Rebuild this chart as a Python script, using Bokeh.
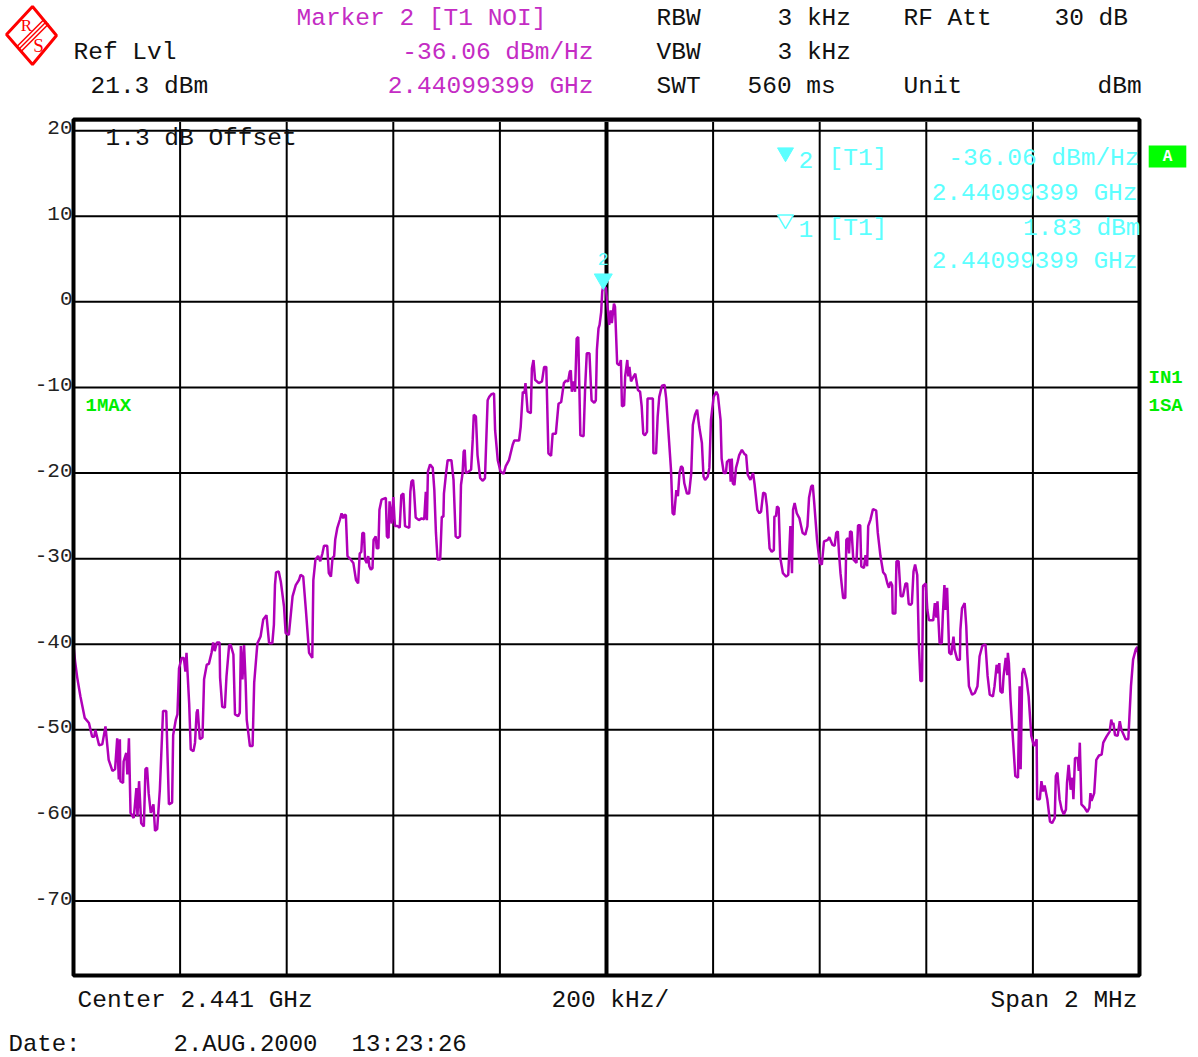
from bokeh.plotting import figure
from bokeh.models import Range1d, Label
from bokeh.core.properties import value
from bokeh.embed import file_html
from bokeh.resources import INLINE

# ---- trace 1 (max hold): offset from center frequency in kHz, level in dBm ----
trace_khz = [
    -1000, -997, -993, -987, -979, -971, -965, -961, -959, -952,
    -946, -940, -934, -927, -922, -918, -915, -913, -912, -907,
    -906, -901, -899, -896, -893, -887, -882, -880, -877, -873,
    -868, -865, -862, -859, -855, -850, -847, -843, -838, -832,
    -826, -821, -815, -813, -808, -805, -802, -797, -793, -790,
    -788, -783, -780, -775, -772, -769, -767, -763, -758, -755,
    -750, -746, -741, -738, -735, -731, -726, -725, -721, -716,
    -713, -708, -705, -700, -697, -691, -688, -686, -683, -680,
    -677, -675, -669, -664, -661, -655, -649, -644, -638, -633,
    -627, -624, -622, -620, -615, -611, -605, -602, -596, -589,
    -583, -577, -574, -569, -564, -558, -552, -550, -546, -541,
    -537, -533, -530, -524, -521, -517, -514, -511, -509, -505,
    -500, -497, -494, -492, -489, -486, -480, -475, -470, -466,
    -463, -460, -458, -455, -453, -450, -447, -445, -442, -439,
    -437, -433, -431, -428, -426, -422, -414, -412, -409, -407,
    -403, -400, -397, -392, -388, -385, -381, -378, -370, -368,
    -366, -363, -361, -358, -352, -347, -342, -339, -337, -335,
    -331, -326, -323, -320, -317, -312, -309, -306, -305, -301,
    -298, -291, -287, -283, -279, -275, -273, -270, -268, -266,
    -264, -258, -254, -251, -249, -245, -242, -237, -232, -228,
    -223, -220, -216, -211, -209, -204, -199,
    -193, -189, -183, -176, -173, -164, -161, -157, -154, -152,
    -148, -142, -140, -137, -134, -127, -121, -117, -113, -109,
    -104, -101, -95, -90, -85, -80, -76, -72, -69, -67,
    -65, -62, -59, -56, -53, -49, -43, -40, -37, -32,
    -28, -23, -20, -18, -15, -13, -10, -8, -6, -3,
    -1, 2, 5, 8, 10, 14, 16, 20, 24, 27,
    29, 33, 35, 39, 41, 43, 46, 51, 54, 59,
    63, 66, 69, 72, 76, 77, 87, 88, 93, 96,
    99, 104, 109, 112, 116, 121, 124, 127, 131, 134,
    137, 140, 143, 146, 151, 155, 159, 162, 166, 170,
    174, 179, 182, 185, 190, 193, 196, 201, 206, 209,
    214,
    216, 220, 224, 226, 231, 233, 235, 237, 240, 243,
    246, 249, 254, 259, 262, 265, 270, 275, 278, 283,
    287, 290, 294, 298, 301, 306, 310, 314, 315, 318,
    320, 323, 326, 331, 337, 341, 345, 348, 350, 353,
    357, 362, 368, 373, 377, 380, 384, 387, 390, 395,
    400, 404, 408, 415, 418, 424, 428, 431, 434, 436,
    439, 444, 448, 450, 453, 455, 457, 460, 463, 469,
    472, 476, 478, 483, 486, 489, 491, 495, 500, 506,
    509, 514, 519, 523, 527, 530, 533, 536, 537, 542,
    544, 548, 552, 556, 561, 564, 567, 571, 573, 576,
    579, 583, 586, 589,
    592, 594, 599, 602, 605, 613, 616, 619, 621, 625,
    629, 631, 634, 636, 639, 643, 647, 651, 653, 658,
    663, 664, 667, 672, 675, 677, 680, 686, 691, 696,
    700, 705, 711, 715, 719, 725, 728, 732, 735, 737,
    739, 743, 745, 749, 752, 753, 755, 758, 763, 767,
    772, 775, 777, 780, 783, 788, 792, 797, 802, 807,
    808, 813, 816, 819, 822, 827, 832, 836, 841, 843,
    846, 850, 854, 858, 862, 864, 867, 871, 874, 876,
    879, 884, 886, 888, 891, 897, 902, 906, 908, 910,
    915, 919, 924, 929, 932, 938, 944, 947, 949, 951,
    954, 959, 963, 966, 969, 974, 979, 981, 984, 988,
    993, 996, 998, 1000,
]

trace_dbm = [
    -40.2, -42.0, -43.9, -46.1, -48.6, -49.2, -50.8, -50.8, -50.0, -51.8,
    -51.7, -49.6, -53.5, -54.8, -54.6, -51.0, -55.8, -51.1, -56.0, -56.2,
    -53.7, -52.7, -55.2, -51.0, -59.7, -60.3, -56.8, -60.1, -56.0, -60.9,
    -61.3, -54.6, -54.4, -57.4, -59.7, -58.7, -61.8, -61.6, -57.0, -47.8,
    -47.8, -58.7, -58.5, -50.6, -48.8, -48.2, -42.8, -41.6, -41.6, -43.2,
    -41.0, -46.9, -52.3, -52.5, -51.5, -48.0, -47.6, -51.1, -50.9, -44.1,
    -42.4, -42.3, -41.0, -39.8, -40.8, -39.8, -39.8, -43.9, -47.3, -47.4,
    -43.8, -40.1, -40.1, -41.2, -48.2, -48.4, -48.0, -40.2, -44.1, -40.1,
    -44.5, -48.8, -51.9, -51.9, -44.5, -39.9, -39.1, -37.1, -36.6, -39.9,
    -39.9, -37.7, -33.1, -31.6, -31.5, -32.7, -35.6, -38.7, -38.9, -34.4,
    -33.1, -32.5, -31.9, -32.1, -36.0, -41.0, -41.6, -32.5, -30.1, -29.7,
    -30.3, -29.4, -28.5, -28.5, -31.7, -32.1, -29.9, -29.7, -27.8, -26.4,
    -25.4, -24.7, -25.3, -24.9, -24.9, -29.7, -30.1, -30.5, -32.5, -32.9,
    -29.4, -29.2, -27.0, -27.0, -30.1, -30.5, -29.7, -30.9, -31.3, -31.1,
    -27.8, -27.4, -28.8, -28.8, -24.3, -23.1, -22.9, -27.4, -27.6, -23.3,
    -25.9, -22.8, -26.2, -26.2, -26.4, -22.6, -22.4, -26.2, -26.4, -22.2,
    -21.0, -20.8, -22.2, -25.2, -25.5, -25.3, -25.4, -22.2, -25.5, -19.8,
    -19.0, -19.4, -22.0, -27.0, -30.1, -30.1, -25.1, -25.1, -22.4, -20.0,
    -18.5, -18.5, -20.8, -27.4, -27.6, -27.4, -21.4, -20.0, -17.5, -17.3,
    -20.0, -19.8, -19.6, -16.1, -13.2, -13.4, -17.9, -20.6, -20.9, -20.6,
    -11.5, -11.1, -10.8, -10.7, -15.0, -18.5, -19.8,
    -20.1, -19.2, -18.5, -16.7, -16.2, -16.2, -14.6, -10.5, -10.7, -9.5,
    -12.8, -13.0, -7.8, -6.8, -9.1, -9.5, -9.3, -7.6, -7.6, -17.7,
    -18.0, -15.4, -15.4, -11.9, -11.7, -9.5, -9.2, -9.3, -8.2, -8.0,
    -10.5, -9.3, -10.5, -4.3, -4.1, -15.6, -15.7, -9.9, -6.0, -6.0,
    -11.5, -11.8, -11.5, -5.6, -3.1, -2.7, -1.2, 1.2, 1.83, 1.7,
    1.6, -0.6, -2.7, -1.0, -2.5, -0.2, -0.6, -7.2, -7.4, -6.8,
    -12.2, -12.1, -8.7, -6.8, -8.7, -7.6, -9.3, -8.7, -8.4, -10.3,
    -10.5, -12.2, -15.4, -15.6, -15.2, -11.3, -11.3, -17.7, -17.7, -13.4,
    -11.1, -9.8, -9.7, -11.3, -15.0, -19.6, -24.7, -24.9, -22.0, -22.7,
    -20.0, -19.2, -19.4, -21.2, -22.4, -22.4, -20.0, -14.4, -13.2, -12.6,
    -14.6, -16.5, -20.4, -20.8, -20.4, -19.4, -13.8, -11.1, -10.5, -10.9,
    -13.8,
    -18.3, -20.0, -20.0, -18.7, -18.4, -21.0, -18.3, -21.2, -21.4, -19.4,
    -18.7, -17.9, -17.3, -17.8, -17.9, -20.2, -20.8, -20.0, -21.4, -24.3,
    -24.7, -24.5, -22.3, -22.4, -23.9, -28.8, -29.2, -29.0, -25.1, -25.0,
    -23.9, -24.1, -29.9, -31.7, -32.1, -31.9, -26.2, -31.7, -24.3, -23.5,
    -24.7, -25.3, -27.0, -27.2, -26.2, -22.9, -21.6, -21.4, -23.7, -27.8,
    -30.5, -30.7, -28.0, -27.8, -27.5, -28.4, -28.5, -27.0, -26.8, -29.2,
    -31.7, -34.6, -34.6, -27.8, -27.6, -29.4, -26.8, -26.9, -30.1, -30.5,
    -26.1, -26.1, -30.9, -31.1, -29.6, -30.9, -26.2, -25.5, -24.2, -24.4,
    -27.0, -29.7, -31.6, -31.9, -32.9, -33.4, -32.7, -33.1, -36.4, -36.4,
    -30.3, -30.3, -34.4, -34.4, -32.9, -32.9, -35.3, -35.4, -35.2, -31.5,
    -30.7, -31.9, -39.9, -44.3,
    -44.3, -33.2, -32.9, -36.0, -37.2, -37.2, -35.2, -36.9, -35.0, -39.9,
    -39.9, -36.6, -33.1, -36.0, -33.4, -41.0, -41.2, -39.1, -40.6, -41.8,
    -41.8, -38.3, -35.8, -35.2, -37.9, -41.2, -44.9, -45.9, -45.7, -44.9,
    -41.4, -40.2, -40.0, -43.7, -45.9, -46.1, -44.9, -42.4, -43.4, -42.2,
    -45.5, -45.7, -43.7, -41.6, -43.6, -41.0, -42.2, -46.5, -51.5, -55.4,
    -55.6, -44.9, -54.6, -43.4, -42.8, -44.1, -46.1, -50.7, -51.9, -51.1,
    -58.1, -58.1, -56.0, -57.2, -56.5, -58.1, -60.7, -60.9, -60.3, -55.4,
    -55.0, -58.1, -59.3, -59.9, -59.3, -56.2, -54.1, -57.0, -55.6, -58.1,
    -53.3, -53.3, -54.8, -51.5, -58.7, -59.1, -59.6, -59.1, -57.4, -58.3,
    -57.4, -53.5, -53.0, -52.9, -51.5, -50.8, -50.2, -48.8, -49.4, -49.2,
    -50.6, -50.7, -49.0, -50.0, -50.4, -51.1, -51.1, -48.6, -44.9, -41.8,
    -40.6, -40.3, -41.4, -42.8,
]
assert len(trace_khz) == len(trace_dbm)

# ---- instrument settings ----
center_ghz = 2.441
span_khz = 2000
div_khz = 200
ref_level_dbm = 21.3
display_range_db = 100
level_ticks = [20, 10, 0, -10, -20, -30, -40, -50, -60, -70]
freq_grid_khz = [-800, -600, -400, -200, 0, 200, 400, 600, 800]

# ---- markers (both on the same frequency) ----
marker_ghz = 2.44099399
marker1_dbm = 1.83
marker2_dbm_hz = -36.06

MONO = "Liberation Mono"
TRACE_COLOR = "#b000b8"
MAGENTA_TEXT = "#c42cc4"
CYAN = "#5cffff"
GREEN = "#00ee00"
BLACK = "#111111"

# page and diagram geometry (pixels)
W, H = 1198, 1057
L, R, T, B = 73, 1139, 119, 975

x_lo, x_hi = -span_khz / 2, span_khz / 2
y_lo, y_hi = ref_level_dbm - display_range_db, ref_level_dbm
kx = (x_hi - x_lo) / (R - L)          # kHz per pixel
ky = (y_hi - y_lo) / (B - T)          # dB per pixel

# The whole screen is one plot; the measurement diagram occupies [L, R] x [T, B]
p = figure(width=W, height=H,
           x_range=Range1d(x_lo - L * kx, x_hi + (W - R) * kx),
           y_range=Range1d(y_lo - (H - B) * ky, y_hi + T * ky),
           x_axis_location=None, y_axis_location=None, toolbar_location=None,
           output_backend="svg", min_border=0, outline_line_color=None,
           background_fill_color="white", border_fill_color="white")
p.grid.visible = False


def X(px):
    return p.x_range.start + px * kx


def Y(py):
    return p.y_range.end - py * ky


def text(px, py, txt, color=BLACK, align="left", size="24.5px", style="normal",
         baseline="alphabetic", font=MONO, **kw):
    p.add_layout(Label(x=X(px), y=Y(py), text=txt, text_color=color, text_align=align,
                       text_baseline=baseline, text_font=font, text_font_size=size,
                       text_font_style=style, **kw))


# ---- graticule ----
p.segment(x0=freq_grid_khz, y0=[y_lo] * len(freq_grid_khz),
          x1=freq_grid_khz, y1=[y_hi] * len(freq_grid_khz), line_color="black", line_width=2)
p.segment(x0=[x_lo] * len(level_ticks), y0=level_ticks,
          x1=[x_hi] * len(level_ticks), y1=level_ticks, line_color="black", line_width=2)
center_khz = 0
p.segment(x0=[center_khz], y0=[y_lo], x1=[center_khz], y1=[y_hi], line_color="black", line_width=4)
p.segment(x0=[x_lo], y0=[y_hi - 2 * ky], x1=[x_hi], y1=[y_hi - 2 * ky],
          line_color="#9a9a9a", line_width=1)

# level scale
p.text(x=[X(72)] * len(level_ticks), y=[t + 3 * ky for t in level_ticks],
       text=[str(t) for t in level_ticks],
       text_align="right", text_baseline="middle", text_font=value(MONO),
       text_font_size=value("21px"), text_color="#222222")

# ---- trace ----
p.line(trace_khz, trace_dbm, line_color=TRACE_COLOR, line_width=2.5)

# diagram border
p.quad(left=[x_lo], right=[x_hi], bottom=[y_lo], top=[y_hi], fill_color=None,
       line_color="black", line_width=4)

# marker on the trace
marker_khz = (marker_ghz - center_ghz) * 1e6
p.scatter([marker_khz], [marker1_dbm + 7 * ky], marker="inverted_triangle", size=18,
          fill_color=CYAN, line_color=CYAN)
p.add_layout(Label(x=marker_khz, y=marker1_dbm, y_offset=27, text="2", text_color=CYAN,
                   text_align="center", text_baseline="alphabetic", text_font=MONO,
                   text_font_size="19px"))

# ---- R&S logo ----
p.patch([X(v) for v in (32, 56, 32, 6)], [Y(v) for v in (6, 35, 64, 34)],
        fill_color=None, line_color="red", line_width=3)
sx, sy = [], []
for k in (-3.2, 0, 3.2):
    sx.append([X(46 + 0.707 * k), X(19 + 0.707 * k)])
    sy.append([Y(21 + 0.707 * k), Y(48 + 0.707 * k)])
p.multi_line(sx, sy, line_color="red", line_width=1.5)
text(26, 25, "R", "red", "center", "17px", baseline="middle", font="Liberation Serif")
text(38, 45, "S", "red", "center", "19px", baseline="middle", font="Liberation Serif")

# ---- header ----
text(296, 18, "Marker 2 [T1 NOI]", MAGENTA_TEXT)
text(73, 52, "Ref Lvl")
text(593, 52, f"{marker2_dbm_hz:.2f} dBm/Hz", MAGENTA_TEXT, "right")
text(90, 86, f"{ref_level_dbm} dBm")
text(593, 86, f"{marker_ghz:.8f} GHz", MAGENTA_TEXT, "right")
text(656, 18, "RBW")
text(777, 18, "3 kHz")
text(903, 18, "RF Att")
text(1054, 18, "30 dB")
text(656, 52, "VBW")
text(777, 52, "3 kHz")
text(656, 86, "SWT")
text(747, 86, "560 ms")
text(903, 86, "Unit")
text(1097, 86, "dBm")

# ---- in-diagram annotations ----
text(105, 138, "1.3 dB Offset")
text(85, 405, "1MAX", GREEN, size="19px", style="bold")
text(1148, 377, "IN1", GREEN, size="19px", style="bold")
text(1148, 405, "1SA", GREEN, size="19px", style="bold")
text(1167, 156, "A", "white", "center", "16px", "bold", "middle",
     background_fill_color="#00ff00", padding=(14, 2))

# marker readout
p.scatter([X(785)], [Y(152)], marker="inverted_triangle", size=16, fill_color=CYAN, line_color=CYAN)
p.scatter([X(785)], [Y(219)], marker="inverted_triangle", size=16, fill_color="white",
          line_color=CYAN, line_width=1.5)
text(798, 159, "2", CYAN)
text(828, 158, "[T1]", CYAN)
text(1139, 158, f"{marker2_dbm_hz:.2f} dBm/Hz", CYAN, "right")
text(1137, 193, f"{marker_ghz:.8f} GHz", CYAN, "right")
text(798, 228, "1", CYAN)
text(828, 228, "[T1]", CYAN)
text(1140, 228, f"{marker1_dbm:.2f} dBm", CYAN, "right")
text(1137, 261, f"{marker_ghz:.8f} GHz", CYAN, "right")

# ---- footer ----
text(77, 1000, f"Center {center_ghz} GHz")
text(551, 1000, f"{div_khz} kHz/")
text(1137, 1000, f"Span {span_khz / 1000:g} MHz", align="right")
text(8, 1044, "Date:", size="24px")
text(173, 1044, "2.AUG.2000", size="24px")
text(351, 1044, "13:23:26", size="24px")

open("out.html", "w").write(file_html(p, INLINE))
